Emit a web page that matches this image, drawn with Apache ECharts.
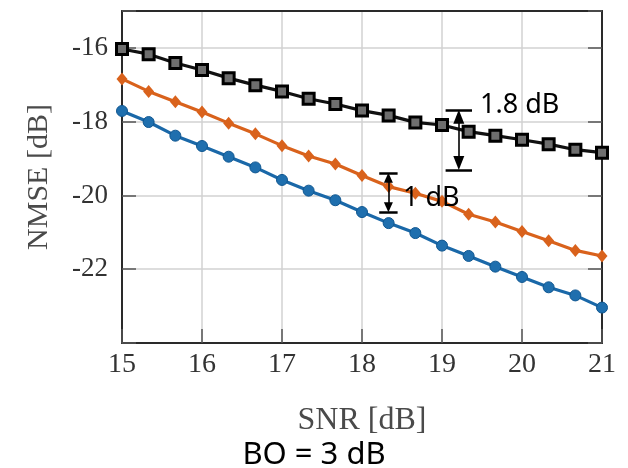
<!DOCTYPE html>
<html>
<head>
<meta charset="utf-8">
<script src="https://cdn.jsdelivr.net/npm/echarts@6/dist/echarts.min.js"></script>
<style>
  html, body { margin: 0; padding: 0; background: #fff; }
  #chart { width: 628px; height: 468px; }
</style>
</head>
<body>
<div id="chart"></div>
<script>
  // SNR points (dB), step 1/3
  var snr = [15, 15.333, 15.667, 16, 16.333, 16.667, 17, 17.333, 17.667, 18,
             18.333, 18.667, 19, 19.333, 19.667, 20, 20.333, 20.667, 21];
  // NMSE curves (dB)
  var nmseBlack = [-16.03, -16.17, -16.41, -16.60, -16.82, -17.01, -17.18, -17.38, -17.52, -17.70,
                   -17.83, -18.02, -18.09, -18.27, -18.38, -18.49, -18.61, -18.76, -18.84];
  var nmseOrange = [-16.84, -17.18, -17.46, -17.74, -18.04, -18.33, -18.65, -18.93, -19.15, -19.46,
                    -19.76, -19.94, -20.16, -20.51, -20.72, -20.98, -21.23, -21.49, -21.64];
  var nmseBlue = [-17.71, -18.01, -18.38, -18.66, -18.95, -19.24, -19.58, -19.87, -20.13, -20.45,
                  -20.75, -21.02, -21.36, -21.64, -21.93, -22.21, -22.49, -22.71, -23.04];
  var xTicks = [15, 16, 17, 18, 19, 20, 21];
  var yTicks = [-16, -18, -20, -22];

  // gap brackets: [x, top, bottom]
  var gapBig = [19.21, -17.68, -19.31];
  var gapSmall = [18.33, -19.39, -20.45];

  function pairs(vals) {
    var out = [];
    for (var i = 0; i < snr.length; i++) out.push([snr[i], vals[i]]);
    return out;
  }

  // vertical double arrow + two end bars, in data coords
  function bracket(g, halfW, pad, size) {
    var x = g[0], top = g[1], bot = g[2];
    var bar = {width: 2.5};
    return [
      [{coord: [x - halfW, top], symbol: 'none', lineStyle: bar}, {coord: [x + halfW, top], symbol: 'none'}],
      [{coord: [x - halfW, bot], symbol: 'none', lineStyle: bar}, {coord: [x + halfW, bot], symbol: 'none'}],
      [{coord: [x, top - pad], symbol: 'triangle', symbolSize: size},
       {coord: [x, bot + pad], symbol: 'triangle', symbolSize: size}]
    ];
  }

  var serif = '"Liberation Serif", "DejaVu Serif", serif';
  var sans = '"Noto Sans", "Open Sans", sans-serif';
  var frame = {show: true, onZero: false, lineStyle: {color: '#2a2a2a', width: 2}};
  var ticks = {show: true, inside: true, length: 14, lineStyle: {color: '#555', width: 1.5}};
  var grid = {show: true, lineStyle: {color: '#d2d2d2', width: 1.5}};

  var myChart = echarts.init(document.getElementById('chart'));
  myChart.setOption({
    animation: false,
    grid: {left: 122, right: 26, top: 11, bottom: 125},
    xAxis: [{
      type: 'value', min: 15, max: 21, interval: 1, position: 'bottom',
      name: 'SNR [dB]', nameLocation: 'middle', nameGap: 62,
      nameTextStyle: {fontFamily: serif, fontSize: 32, color: '#4a4a4a'},
      axisLine: frame,
      axisTick: ticks,
      axisLabel: {
        fontFamily: serif, fontSize: 28, color: '#333', margin: 8,
        formatter: function (v) { return xTicks.indexOf(v) >= 0 ? String(v) : ''; }
      },
      splitLine: grid
    }, {
      type: 'value', min: 15, max: 21, interval: 1, position: 'top',
      axisLine: frame, axisTick: {show: false}, axisLabel: {show: false}, splitLine: {show: false}
    }],
    yAxis: [{
      type: 'value', min: -24, max: -15, interval: 2, position: 'left',
      name: 'NMSE [dB]', nameLocation: 'middle', nameGap: 68,
      nameTextStyle: {fontFamily: serif, fontSize: 30, color: '#4a4a4a'},
      axisLine: frame,
      axisTick: ticks,
      axisLabel: {
        fontFamily: serif, fontSize: 27, color: '#333', margin: 14,
        formatter: function (v) { return yTicks.indexOf(v) >= 0 ? String(v) : ''; }
      },
      splitLine: grid
    }, {
      type: 'value', min: -24, max: -15, interval: 2, position: 'right',
      axisLine: frame, axisTick: ticks, axisLabel: {show: false}, splitLine: {show: false}
    }],
    series: [
      {
        name: 'black', type: 'line', data: pairs(nmseBlack),
        symbol: 'rect', symbolSize: 11,
        lineStyle: {color: '#111', width: 3.2},
        itemStyle: {color: '#6e6e6e', borderColor: '#000', borderWidth: 3},
        z: 3
      },
      {
        name: 'orange', type: 'line', data: pairs(nmseOrange),
        symbol: 'diamond', symbolSize: [11, 13],
        lineStyle: {color: '#d9621c', width: 3.2},
        itemStyle: {color: '#d9621c'},
        z: 3
      },
      {
        name: 'blue', type: 'line', data: pairs(nmseBlue),
        symbol: 'circle', symbolSize: 11,
        lineStyle: {color: '#1a68a8', width: 3.2},
        itemStyle: {color: '#1f6fae', borderColor: '#0f5690', borderWidth: 1},
        z: 3
      },
      {
        name: 'brackets', type: 'line', data: [], silent: true,
        markLine: {
          silent: true, animation: false,
          label: {show: false},
          lineStyle: {color: '#000', width: 1.6, type: 'solid'},
          emphasis: {disabled: true},
          data: bracket(gapBig, 0.165, 0.19, [11, 14]).concat(bracket(gapSmall, 0.115, 0.13, [9, 10]))
        },
        z: 5
      }
    ],
    graphic: [
      {type: 'text', left: 480, top: 92, z: 10,
       style: {text: '1.8 dB', fontFamily: sans, fontSize: 27, fill: '#000'}},
      {type: 'text', left: 403, top: 185, z: 10,
       style: {text: '1 dB', fontFamily: sans, fontSize: 27, fill: '#000'}},
      {type: 'text', left: 'center', top: 440, z: 10,
       style: {text: 'BO = 3 dB', fontFamily: sans, fontSize: 31, fill: '#000'}}
    ]
  });
</script>
</body>
</html>
